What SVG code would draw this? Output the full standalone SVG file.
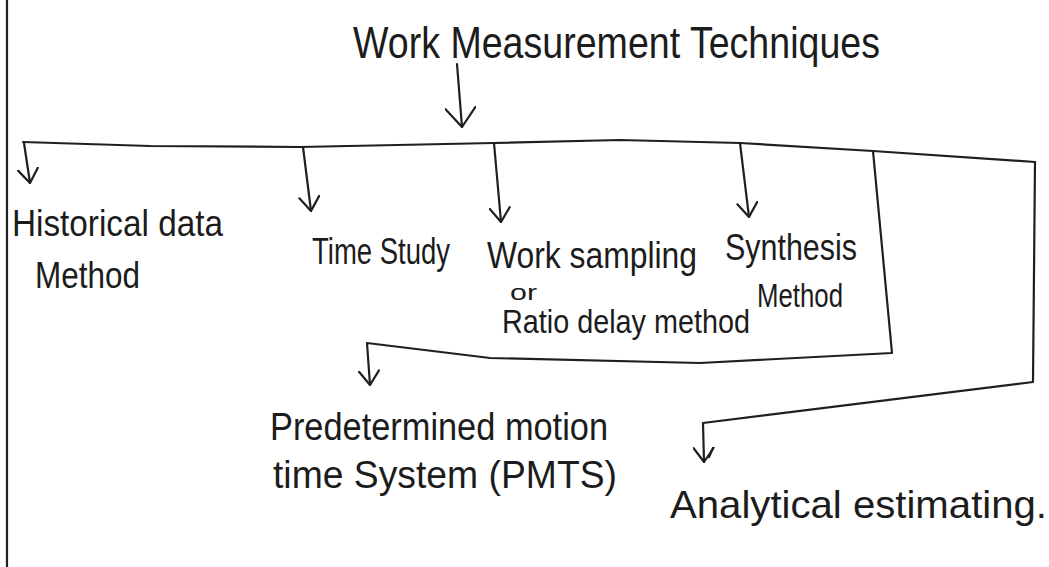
<svg xmlns="http://www.w3.org/2000/svg" width="1049" height="567" viewBox="0 0 1049 567">
  <style>
    .t { font-family: "Liberation Sans", "DejaVu Sans", sans-serif; fill: #1c1c1c; }
    .c { fill: none; stroke: #1f1f1f; stroke-width: 2.2; stroke-linecap: round; stroke-linejoin: round; }
  </style>
  <defs>
    <marker id="v" viewBox="0 0 16 22" refX="15" refY="11" markerUnits="userSpaceOnUse" markerWidth="16" markerHeight="22" orient="auto">
      <path d="M1,1 L15,11 L1,21" fill="none" stroke="#1f1f1f" stroke-width="2.2" stroke-linecap="round" stroke-linejoin="round"/>
    </marker>
    <marker id="vbig" viewBox="0 0 21 32" refX="20" refY="16" markerUnits="userSpaceOnUse" markerWidth="21" markerHeight="32" orient="auto">
      <path d="M1,1 L20,16 L1,31" fill="none" stroke="#1f1f1f" stroke-width="2.2" stroke-linecap="round" stroke-linejoin="round"/>
    </marker>
  </defs>
  <rect width="1049" height="567" fill="#ffffff"/>
  <line x1="7" y1="0" x2="7" y2="567" class="c" stroke-width="2.6"/>

  <g id="connectors">
    <path class="c" d="M457,64 L462,127" marker-end="url(#vbig)"/>
    <path class="c" d="M23,142 L150,146 L300,147 L494,143 L620,140 L740,143 L873,151 L1035,162"/>
    <path class="c" d="M24,143 L30,183" marker-end="url(#v)"/>
    <path class="c" d="M303,147 L311,211" marker-end="url(#v)"/>
    <path class="c" d="M494,143 L501,222" marker-end="url(#v)"/>
    <path class="c" d="M740,143 L749,217" marker-end="url(#v)"/>
    <path class="c" d="M873,151 L892,353 L700,363 L490,358 L367,343 L370,385" marker-end="url(#v)"/>
    <path class="c" d="M1035,162 L1033,382 L703,423 L704,462" marker-end="url(#v)"/>
    <path class="c" d="M713,448 L709,457"/>
  </g>

  <g id="title">
    <text class="t" x="353" y="58" font-size="44" textLength="527" lengthAdjust="spacingAndGlyphs">Work Measurement Techniques</text>
  </g>
  <g id="historical">
    <text class="t" x="12" y="236" font-size="37" textLength="211" lengthAdjust="spacingAndGlyphs">Historical data</text>
    <text class="t" x="35" y="288" font-size="37" textLength="105" lengthAdjust="spacingAndGlyphs">Method</text>
  </g>
  <g id="time-study">
    <text class="t" x="312" y="264" font-size="37" textLength="138" lengthAdjust="spacingAndGlyphs">Time Study</text>
  </g>
  <g id="work-sampling">
    <text class="t" x="487" y="268" font-size="36" textLength="210" lengthAdjust="spacingAndGlyphs">Work sampling</text>
    <text class="t" x="510" y="300" font-size="22" textLength="27" lengthAdjust="spacingAndGlyphs">or</text>
    <text class="t" x="502" y="333" font-size="33" textLength="248" lengthAdjust="spacingAndGlyphs">Ratio delay method</text>
  </g>
  <g id="synthesis">
    <text class="t" x="725" y="260" font-size="36" textLength="132" lengthAdjust="spacingAndGlyphs">Synthesis</text>
    <text class="t" x="757" y="307" font-size="34" textLength="86" lengthAdjust="spacingAndGlyphs">Method</text>
  </g>
  <g id="pmts">
    <text class="t" x="270" y="440" font-size="39" textLength="338" lengthAdjust="spacingAndGlyphs">Predetermined motion</text>
    <text class="t" x="273" y="488" font-size="39" textLength="344" lengthAdjust="spacingAndGlyphs">time System (PMTS)</text>
  </g>
  <g id="analytical">
    <text class="t" x="670" y="518" font-size="39" textLength="377" lengthAdjust="spacingAndGlyphs">Analytical estimating.</text>
  </g>
</svg>
